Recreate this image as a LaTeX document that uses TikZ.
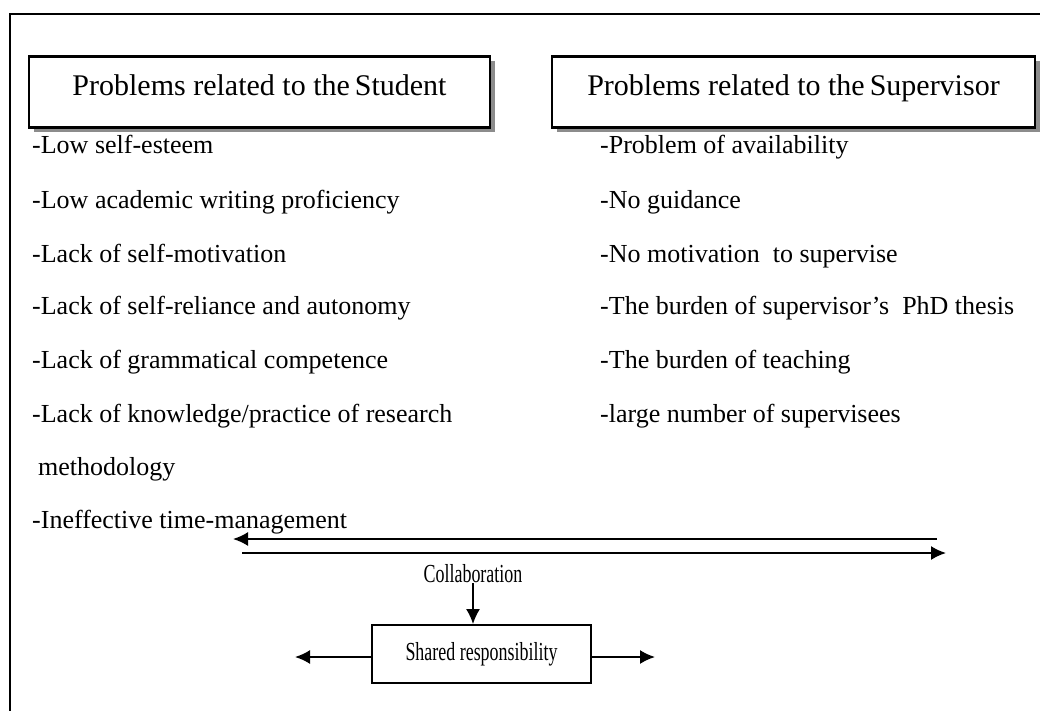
\documentclass[tikz,border=0pt]{standalone}
\usepackage{fontspec}
\setmainfont{Liberation Serif}
\usetikzlibrary{arrows.meta,shadows}

\tikzset{
  headbox/.style={draw, line width=2.4pt, fill=white, minimum height=71pt,
    font=\fontsize{30}{33}\selectfont, text height=0.68em, text depth=0.02em,
    drop shadow={shadow xshift=5pt, shadow yshift=-5pt, fill=gray!90, opacity=1}},
  item/.style={anchor=base west, inner sep=0pt, font=\fontsize{26}{30}\selectfont},
  narrow/.style={inner sep=0pt, font=\fontsize{26}{29}\selectfont},
  conn/.style={line width=1.8pt, -{Latex[length=15pt,width=14pt]}}
}
\newcommand{\cond}[1]{\scalebox{0.69}[1]{#1}}

\begin{document}
\begin{tikzpicture}[x=1pt,y=-1pt]
\clip (0,0) rectangle (1040,711);
% open frame, only top and left edges show
\draw[line width=2.6pt] (1060,14) -- (10,14) -- (10,730);

\node[headbox, minimum width=461pt] (student) at (259.5,92) {Problems related to the\,Student};
\node[headbox, minimum width=483pt] (supervisor) at (793.5,92) {Problems related to the\,Supervisor};

% student side
\node[item] (s1) at (32,154) {-Low self-esteem};
\node[item] (s2) at (32,208) {-Low academic writing proficiency};
\node[item] (s3) at (32,262) {-Lack of self-motivation};
\node[item] (s4) at (32,314) {-Lack of self-reliance and autonomy};
\node[item] (s5) at (32,368) {-Lack of grammatical competence};
\node[item] (s6) at (32,422) {-Lack of knowledge/practice of research};
\node[item] (s7) at (38,475) {methodology};
\node[item] (s8) at (32,528) {-Ineffective time-management};

% supervisor side
\node[item] (p1) at (600,154) {-Problem of availability};
\node[item] (p2) at (600,208) {-No guidance};
\node[item] (p3) at (600,262) {-No motivation\ \ to supervise};
\node[item] (p4) at (600,314) {-The burden of supervisor's\ \ PhD thesis};
\node[item] (p5) at (600,368) {-The burden of teaching};
\node[item] (p6) at (600,422) {-large number of supervisees};

% two way arrows
\coordinate (upR) at (937,539); \coordinate (upL) at (233,539);
\coordinate (loL) at (242,553); \coordinate (loR) at (946,553);
\draw[conn] (upR) -- (upL);
\draw[conn] (loL) -- (loR);

\node[narrow] (collab) at (473,574) {\cond{Collaboration}};
\node[draw, line width=1.8pt, minimum width=219pt, minimum height=58pt] (share) at (481.5,654)
  {\fontsize{26}{29}\selectfont\cond{Shared responsibility}};
\coordinate (shL) at (295,657); \coordinate (shR) at (655,657);

\draw[conn] (collab.south) -- (share.north -| collab);
\draw[conn] (share.west |- shL) -- (shL);
\draw[conn] (share.east |- shR) -- (shR);
\end{tikzpicture}
\end{document}
